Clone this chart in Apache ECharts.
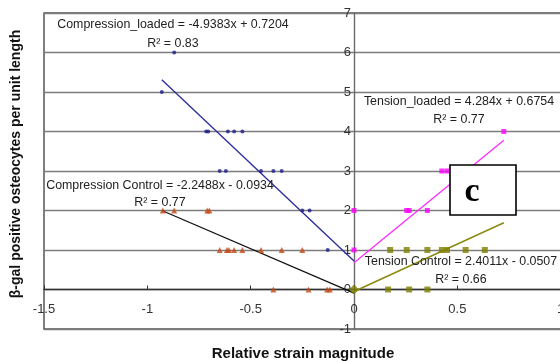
<!DOCTYPE html>
<html><head><meta charset="utf-8">
<script src="https://cdn.jsdelivr.net/npm/echarts@6/dist/echarts.min.js"></script>
<style>html,body{margin:0;padding:0;background:#fff}#c{width:560px;height:361px}</style>
</head><body><div id="c"></div>
<script>
// Compression loaded (blue dots)
const compLoadedX = [-0.87,-0.93,-0.715,-0.705,-0.61,-0.58,-0.54,-0.65,-0.62,-0.45,-0.39,-0.35,-0.25,-0.215,-0.127];
const compLoadedY = [6,5,4,4,4,4,4,3,3,3,3,3,2,2,1];
// Compression control (triangles)
const compCtrlX = [-0.925,-0.87,-0.71,-0.70,-0.65,-0.615,-0.605,-0.58,-0.54,-0.45,-0.35,-0.25,-0.39,-0.22,-0.13,-0.117];
const compCtrlY = [2,2,2,2,1,1,1,1,1,1,1,1,0,0,0,0];
// Tension loaded (magenta)
const tenLoadedX = [0,0,0.725,0.425,0.45,0.255,0.267,0.355];
const tenLoadedY = [2,1,4,3,3,2,2,2];
// Tension control (olive)
const tenCtrlX = [0.175,0.255,0.355,0.425,0.45,0.54,0.633,0.165,0.267,0.355];
const tenCtrlY = [1,1,1,1,1,1,1,0,0,0];
const tenCtrlOrigin = [[0,0]];
// Trend line end points
const compLoadedTrend = [[-0.93,5.31],[0,0.72]];
const compCtrlTrend = [[-0.93,2.0],[0,-0.09]];
const tenLoadedTrend = [[0,0.68],[0.725,3.78]];
const tenCtrlTrend = [[0,-0.05],[0.725,1.69]];
// Equation labels
const eqLabels = [
  ["Compression_loaded = -4.9383x + 0.7204", "R² = 0.83"],
  ["Tension_loaded = 4.284x + 0.6754", "R² = 0.77"],
  ["Compression Control = -2.2488x - 0.0934", "R² = 0.77"],
  ["Tension Control = 2.4011x - 0.0507", "R² = 0.66"]
];
const yTitle = "β-gal positive osteocytes per unit length";
const xTitle = "Relative strain magnitude";
const panelLetter = "c";

const zip = (xs, ys) => xs.map((x, i) => [x, ys[i]]);
const F = 'Arial, "Liberation Sans", sans-serif';
const chart = echarts.init(document.getElementById('c'), null, {renderer: 'canvas'});
const eqPos = [[173,25,44],[459,102,120],[160,186,203],[461,262,280]];
const graphics = [];
eqLabels.forEach((l, i) => {
  const p = eqPos[i];
  graphics.push({type:'text', x:p[0], y:p[1], z:50, style:{text:l[0], fill:'#222', font:'12.4px ' + F, textAlign:'center', textVerticalAlign:'middle'}});
  graphics.push({type:'text', x:p[0], y:p[2], z:50, style:{text:l[1], fill:'#222', font:'12.4px ' + F, textAlign:'center', textVerticalAlign:'middle'}});
});
graphics.push({type:'text', x:16, y:164, rotation:Math.PI/2, z:50, style:{text:yTitle, fill:'#111', font:'bold 14px ' + F, textAlign:'center', textVerticalAlign:'middle'}});
graphics.push({type:'text', x:303, y:354, z:50, style:{text:xTitle, fill:'#111', font:'bold 15px ' + F, textAlign:'center', textVerticalAlign:'middle'}});
graphics.push({type:'rect', shape:{x:450, y:165, width:66, height:50}, z:60, style:{fill:'#fff', stroke:'#000', lineWidth:1.6}});
graphics.push({type:'text', x:472, y:192, z:61, style:{text:panelLetter, fill:'#000', font:'bold 34px "Liberation Serif", "DejaVu Serif", serif', textAlign:'center', textVerticalAlign:'middle'}});

chart.setOption({
  animation: false,
  backgroundColor: '#fff',
  grid: {left:44, top:13, width:620, height:316, show:true, borderColor:'#555', borderWidth:1.5, backgroundColor:'transparent', containLabel:false, outerBoundsMode:'none'},
  xAxis: {type:'value', min:-1.5, max:1.5, interval:0.5, position:'bottom', offset:-39.5,
    axisLine:{onZero:false, lineStyle:{color:'#333', width:1.3}},
    axisTick:{show:true, inside:true, length:4, lineStyle:{color:'#333'}},
    axisLabel:{color:'#333', fontSize:13, fontFamily:F, margin:13},
    splitLine:{show:false}},
  yAxis: {type:'value', min:-1, max:7, interval:1, position:'left', offset:-310,
    axisLine:{show:true, onZero:false, lineStyle:{color:'#6a6a6a', width:1.4}},
    axisTick:{show:false},
    axisLabel:{color:'#333', fontSize:13, fontFamily:F, margin:3},
    splitLine:{show:true, lineStyle:{color:'#7c7c7c', width:1.4}}},
  graphic: graphics,
  series: [
    {type:'line', data:compLoadedTrend, symbol:'none', lineStyle:{color:'#2a2a9a', width:1.3}, z:3},
    {type:'line', data:compCtrlTrend, symbol:'none', lineStyle:{color:'#111', width:1.3}, z:3},
    {type:'line', data:tenLoadedTrend, symbol:'none', lineStyle:{color:'#ff2bff', width:1.3}, z:3},
    {type:'line', data:tenCtrlTrend, symbol:'none', lineStyle:{color:'#8a8a10', width:1.5}, z:3},
    {type:'scatter', data:zip(compLoadedX, compLoadedY), symbol:'circle', symbolSize:4, itemStyle:{color:'#1e1e8c'}, z:4},
    {type:'scatter', data:zip(compCtrlX, compCtrlY), symbol:'triangle', symbolSize:6, itemStyle:{color:'#c44a14'}, z:4},
    {type:'scatter', data:zip(tenLoadedX, tenLoadedY), symbol:'rect', symbolSize:5, itemStyle:{color:'#ff00ff'}, z:4},
    {type:'scatter', data:zip(tenCtrlX, tenCtrlY), symbol:'rect', symbolSize:6, itemStyle:{color:'#808000'}, z:4},
    {type:'scatter', data:tenCtrlOrigin, symbol:'diamond', symbolSize:10, itemStyle:{color:'#808000'}, z:5}
  ]
});
</script></body></html>
